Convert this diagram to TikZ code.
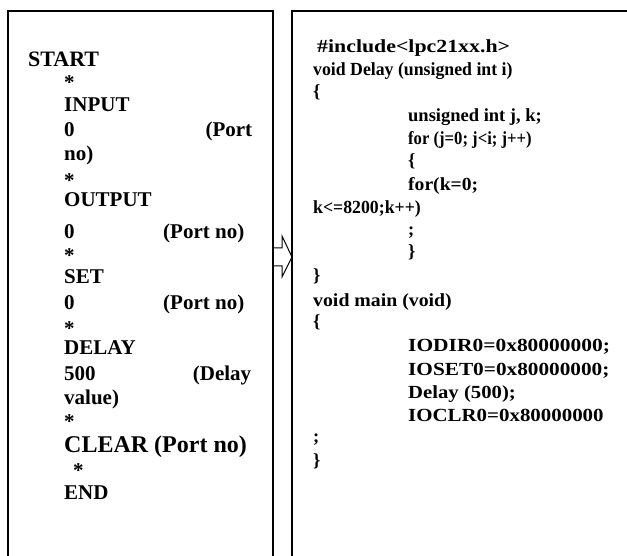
\documentclass[tikz,border=0pt]{standalone}
\usepackage{fontspec}
\setmainfont{Liberation Serif}
\begin{document}
\begin{tikzpicture}[x=1pt,y=-1pt,
  frame/.style={line width=2pt},
  blockarrow/.style={line width=1pt,line join=miter},
  lt/.style={anchor=base west,inner sep=0pt,font=\fontsize{21}{25}\selectfont\bfseries},
  lbig/.style={anchor=base west,inner sep=0pt,font=\fontsize{24}{28}\selectfont\bfseries},
  rt/.style={anchor=base west,inner sep=0pt,font=\fontsize{18.5}{22}\selectfont\bfseries}]
\useasboundingbox (0,0) rectangle (627,556);
% hollow block arrow between the boxes
\draw[blockarrow] (273,248) -- (282,248) -- (282,236) -- (292,257) -- (282,277) -- (282,266) -- (273,266);
% open frames
\draw[frame] (8,558) -- (8,11) -- (273,11) -- (273,558);
\draw[frame] (292,558) -- (292,11) -- (629,11);
% left column
\node[lt,font=\fontsize{22}{26}\selectfont\bfseries] (l1) at (28,67) {START};
\node[lt] (l2) at (64,90) {*};
\node[lt] (l3) at (64,112) {INPUT};
\node[lt] (l4) at (64,137) {\makebox[188pt][l]{0\hfill(Port}};
\node[lt] (l5) at (64,161) {no)};
\node[lt] (l6) at (64,188) {*};
\node[lt] (l7) at (64,207) {OUTPUT};
\node[lt] (l8) at (64,239) {\makebox[99pt][l]{0}(Port no)};
\node[lt] (l9) at (64,263) {*};
\node[lt] (l10) at (64,284) {SET};
\node[lt] (l11) at (64,309) {\makebox[99pt][l]{0}(Port no)};
\node[lt] (l12) at (64,335) {*};
\node[lt] (l13) at (64,354) {DELAY};
\node[lt] (l14) at (64,380) {\makebox[187pt][l]{500\hfill(Delay}};
\node[lt] (l15) at (64,404) {value)};
\node[lt] (l16) at (64,428) {*};
\node[lbig] (l17) at (64,452) {CLEAR (Port no)};
\node[lt] (l18) at (73,477) {*};
\node[lt] (l19) at (64,499) {END};
% right column
\node[rt] (r1) at (317,53) {\scalebox{1.18}[1]{\#include<lpc21xx.h>}};
\node[rt] (r2) at (313,76) {\scalebox{0.96}[1]{void Delay (unsigned int i)}};
\node[rt] (r3) at (313,98) {\{};
\node[rt] (r4) at (408,122) {unsigned int j, k;};
\node[rt] (r5) at (408,145) {\scalebox{0.9}[1]{for (j=0; j<i; j++)}};
\node[rt] (r6) at (408,167) {\{};
\node[rt] (r7) at (408,191) {\scalebox{1.06}[1]{for(k=0;}};
\node[rt] (r8) at (313,214) {\scalebox{0.96}[1]{k<=8200;k++)}};
\node[rt] (r9) at (408,236) {;};
\node[rt] (r10) at (408,258) {\}};
\node[rt] (r11) at (313,282) {\}};
\node[rt] (r12) at (313,306) {\scalebox{1.07}[1]{void main (void)}};
\node[rt] (r13) at (313,327) {\{};
\node[rt] (r14) at (408,352) {\scalebox{1.16}[1]{IODIR0=0x80000000;}};
\node[rt] (r15) at (408,375) {\scalebox{1.15}[1]{IOSET0=0x80000000;}};
\node[rt] (r16) at (408,398) {\scalebox{1.12}[1]{Delay (500);}};
\node[rt] (r17) at (408,421) {\scalebox{1.13}[1]{IOCLR0=0x80000000}};
\node[rt] (r18) at (313,442) {;};
\node[rt] (r19) at (313,466) {\}};
\end{tikzpicture}
\end{document}
